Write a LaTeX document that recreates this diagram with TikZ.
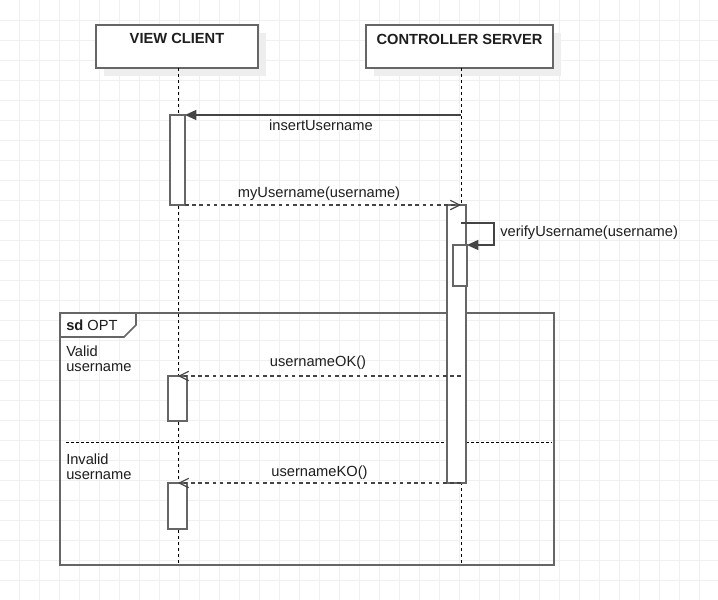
\documentclass[tikz,border=0pt]{standalone}
\usepackage{fontspec}
\setmainfont{Liberation Sans}
\usetikzlibrary{arrows.meta,shadows}
\definecolor{gridc}{HTML}{F0F0F0}
\definecolor{edgec}{HTML}{666666}
\definecolor{shadowc}{HTML}{EEEEEE}
\definecolor{txtc}{HTML}{1E1E1E}
\definecolor{msgc}{HTML}{444444}
\begin{document}
\begin{tikzpicture}[x=0.75pt,y=-0.75pt,
  font=\fontsize{11pt}{11.25pt}\selectfont,
  gridline/.style={draw=gridc, line width=0.75pt},
  headbox/.style={draw=edgec, line width=1.2pt, fill=white, inner sep=0, minimum height=32.25pt,
    drop shadow={shadow xshift=6pt, shadow yshift=-6pt, fill=shadowc, opacity=1}},
  headtext/.style={text=txtc, inner sep=0, font=\fontsize{11pt}{11.25pt}\selectfont\bfseries},
  actbox/.style={draw=edgec, line width=1.2pt, fill=white, inner sep=0, outer sep=0},
  lifeline/.style={draw=black, line width=0.75pt, dash pattern=on 2.25pt off 2.25pt},
  framebox/.style={draw=edgec, line width=1.2pt, inner sep=0, outer sep=0},
  tabshape/.style={draw=edgec, line width=1.2pt, fill=white},
  sepline/.style={draw=black, line width=0.75pt, dash pattern=on 2.25pt off 1.5pt},
  syncmsg/.style={draw=msgc, line width=1.1pt, -{Triangle[length=8.5pt,width=7.5pt]}},
  retmsg/.style={draw=msgc, line width=0.9pt, dash pattern=on 2.7pt off 2.7pt, -{Straight Barb[length=7pt,width=7pt]}},
  lbl/.style={text=txtc, inner sep=0}
]
\useasboundingbox (0,0) rectangle (718,600);
\fill[white] (0,0) rectangle (718,600);
% grid
\foreach \k in {0,...,34} { \draw[gridline] (19.5+20*\k,0) -- (19.5+20*\k,600); }
\foreach \k in {1,...,29} { \draw[gridline] (0,20*\k) -- (718,20*\k); }

% lifeline heads
\node[headbox, minimum width=121.5pt] (vc) at (177,46.5) {};
\node[headtext] (vct) at (177,38.5) {VIEW CLIENT};
\node[headbox, minimum width=140.25pt] (cs) at (459.5,46.5) {};
\node[headtext] (cst) at (459.5,39) {CONTROLLER SERVER};

% lifelines
\coordinate (vctop) at (178,68);
\coordinate (vcbot) at (178,565);
\coordinate (cstop) at (461,68);
\coordinate (csbot) at (461,565);
\draw[lifeline] (vctop) -- (vcbot);
\draw[lifeline] (cstop) -- (csbot);

% combined fragment
\node[framebox, minimum width=370.5pt, minimum height=189pt] (frag) at (307.25,439) {};
\draw[tabshape] (frag.north west) -- (136,313) -- (136,325) -- (124,337) -- (60,337) -- cycle;
\node[lbl, anchor=west] (sdl) at (66,325) {\textbf{sd} OPT};
\coordinate (sepl) at (66,442);
\coordinate (sepr) at (552,442);
\draw[sepline] (sepl) -- (sepr);
\node[lbl, anchor=north west, align=left] (g1) at (66,346) {Valid\\username};
\node[lbl, anchor=north west, align=left] (g2) at (66,453.5) {Invalid\\username};

% activations
\node[actbox, minimum width=11.25pt, minimum height=67.5pt] (a1) at (177.5,160) {};
\node[actbox, minimum width=14.25pt, minimum height=208.5pt] (s1) at (456.5,344) {};
\node[actbox, minimum width=10.5pt, minimum height=30.75pt] (s2) at (460,265.5) {};
\node[actbox, minimum width=14.25pt, minimum height=33.75pt] (a2) at (177.5,398.5) {};
\node[actbox, minimum width=14.25pt, minimum height=34.5pt] (a3) at (177.5,506) {};

% messages
\coordinate (m1s) at (461,115);
\draw[syncmsg] (m1s) -- (a1.north east);
\node[lbl] (m1l) at (321,125.5) {insertUsername};

\coordinate (m2e) at (461,205);
\draw[retmsg] (a1.south east) -- (m2e);
\node[lbl] (m2l) at (319,193.5) {myUsername(username)};

\coordinate (m3s) at (461,223);
\draw[syncmsg] (m3s) -- (494,223) -- (494,245) -- (s2.north east);
\node[lbl, anchor=west] (m3l) at (500,233) {verifyUsername(username)};

\coordinate (m4s) at (461,376);
\coordinate (m4e) at (178,376);
\draw[retmsg] (m4s) -- (m4e);
\node[lbl] (m4l) at (318,363) {usernameOK()};

\coordinate (m5s) at (461,483);
\coordinate (m5e) at (178,483);
\draw[retmsg] (m5s) -- (m5e);
\node[lbl] (m5l) at (319.5,473) {usernameKO()};
\end{tikzpicture}
\end{document}
